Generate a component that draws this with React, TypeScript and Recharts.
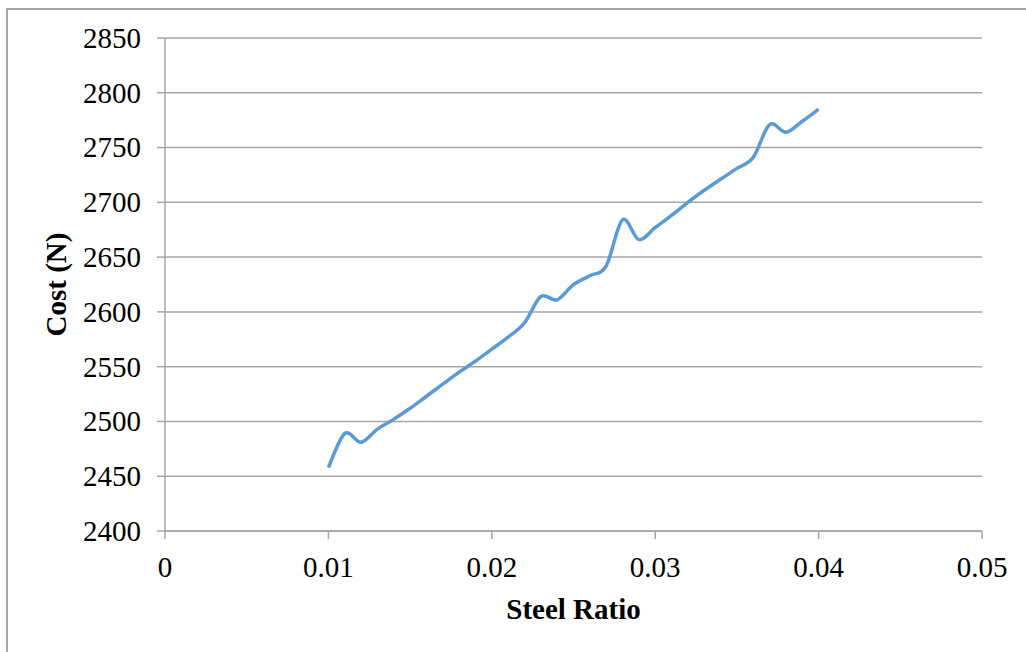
import React from "react";
import { LineChart, Line, XAxis, YAxis, CartesianGrid } from "recharts";

const steelRatio = [
  0.01, 0.011, 0.012, 0.013, 0.014, 0.015, 0.016, 0.017, 0.018, 0.019, 0.02,
  0.021, 0.022, 0.023, 0.024, 0.025, 0.026, 0.027, 0.028, 0.029, 0.03, 0.031,
  0.032, 0.033, 0.034, 0.035, 0.036, 0.037, 0.038, 0.039, 0.04,
];
const cost = [
  2458, 2489, 2481, 2493, 2502, 2512, 2523, 2534, 2545, 2555, 2566, 2577, 2590,
  2614, 2611, 2625, 2633, 2642, 2684, 2666, 2677, 2688, 2700, 2711, 2721, 2731,
  2741, 2771, 2764, 2774, 2785,
];
const xTicks = [0, 0.01, 0.02, 0.03, 0.04, 0.05];
const yTicks = [2400, 2450, 2500, 2550, 2600, 2650, 2700, 2750, 2800, 2850];

const data = steelRatio.map((x, i) => ({ x, cost: cost[i] }));

const FONT = "Liberation Serif";
const GREY = "#a6a6a6";

// Excel-style smoothed line (Catmull-Rom through the points)
const smoothCurve = (ctx: any) => {
  let pts: number[][] = [];
  return {
    areaStart() {},
    areaEnd() {},
    lineStart() {
      pts = [];
    },
    point(x: number, y: number) {
      pts.push([+x, +y]);
    },
    lineEnd() {
      if (!pts.length) return;
      ctx.moveTo(pts[0][0], pts[0][1]);
      for (let i = 0; i < pts.length - 1; i++) {
        const p0 = pts[i - 1] || pts[i];
        const p1 = pts[i];
        const p2 = pts[i + 1];
        const p3 = pts[i + 2] || p2;
        ctx.bezierCurveTo(
          p1[0] + (p2[0] - p0[0]) / 6,
          p1[1] + (p2[1] - p0[1]) / 6,
          p2[0] - (p3[0] - p1[0]) / 6,
          p2[1] - (p3[1] - p1[1]) / 6,
          p2[0],
          p2[1]
        );
      }
    },
  };
};

const XTick = (props: any) => {
  const { x, y, payload } = props;
  const v = payload.value;
  return (
    <text
      x={x}
      y={y}
      dy="0.71em"
      textAnchor="middle"
      fill="#000"
      fontFamily={FONT}
      fontSize={29}
    >
      {v === 0 ? "0" : v.toFixed(2)}
    </text>
  );
};

const YTick = (props: any) => {
  const { x, y, payload } = props;
  return (
    <text
      x={x}
      y={y}
      dy="0.34em"
      textAnchor="end"
      fill="#000"
      fontFamily={FONT}
      fontSize={29}
    >
      {payload.value}
    </text>
  );
};

export default function App() {
  return (
    <div
      style={{
        position: "absolute",
        left: 0,
        top: 0,
        width: 1026,
        height: 652,
        overflow: "hidden",
        background: "#fff",
      }}
    >
      <div
        style={{
          position: "absolute",
          left: 6,
          top: 8,
          width: 1100,
          height: 700,
          border: `2px solid ${GREY}`,
        }}
      />
      <div style={{ position: "absolute", left: 0, top: 0 }}>
        <LineChart
          width={1026}
          height={652}
          data={data}
          margin={{ top: 38, right: 44, bottom: 31, left: 0 }}
        >
          <CartesianGrid vertical={false} stroke={GREY} strokeWidth={1.5} />
          <XAxis
            dataKey="x"
            type="number"
            domain={[0, 0.05]}
            ticks={xTicks}
            height={90}
            tickSize={8}
            tickMargin={17}
            stroke={GREY}
            strokeWidth={1.5}
            tick={<XTick />}
            label={{
              value: "Steel Ratio",
              position: "insideBottom",
              offset: 2,
              fill: "#000",
              fontFamily: FONT,
              fontSize: 29,
              fontWeight: "bold",
            }}
          />
          <YAxis
            type="number"
            domain={[2400, 2850]}
            ticks={yTicks}
            width={165}
            tickSize={8}
            tickMargin={16}
            stroke={GREY}
            strokeWidth={1.5}
            tick={<YTick />}
            label={{
              value: "Cost (N)",
              angle: -90,
              position: "insideLeft",
              offset: 56,
              fill: "#000",
              fontFamily: FONT,
              fontSize: 29,
              fontWeight: "bold",
              style: { textAnchor: "middle" },
            }}
          />
          <Line
            dataKey="cost"
            type={smoothCurve as any}
            stroke="#5b9bd5"
            strokeWidth={3.5}
            dot={false}
            activeDot={false}
            isAnimationActive={false}
          />
        </LineChart>
      </div>
    </div>
  );
}
